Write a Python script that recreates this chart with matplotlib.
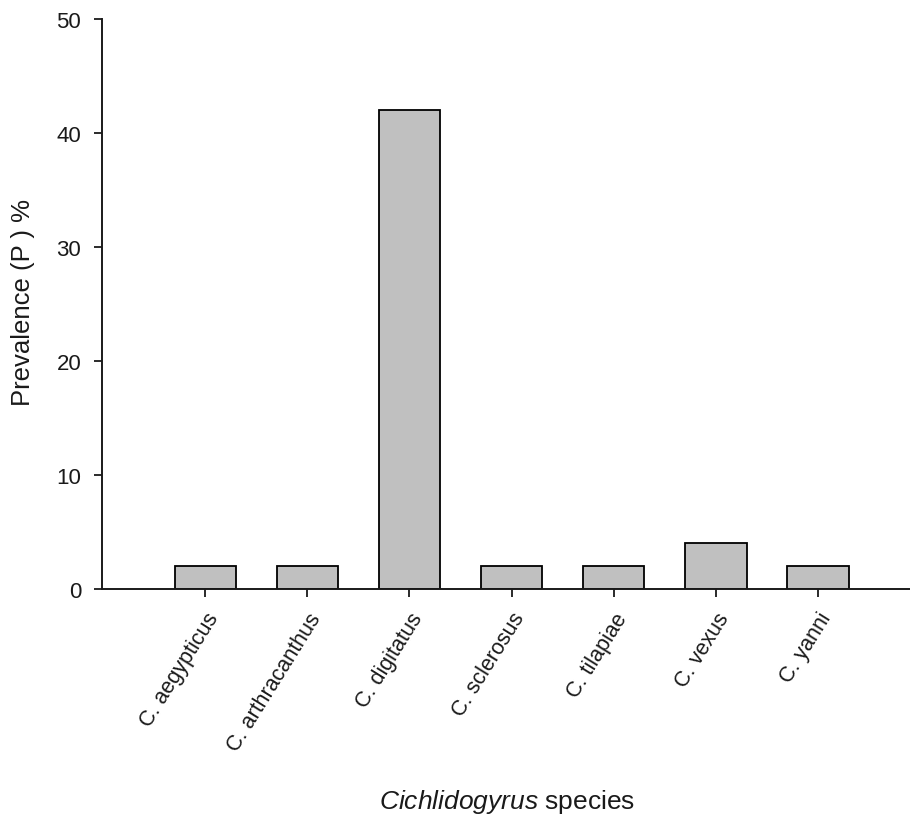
import numpy as np
import matplotlib.pyplot as plt

# ============================================================
# DATA
# ============================================================

species    = ["C. aegypticus", "C. arthracanthus", "C. digitatus", "C. sclerosus",
              "C. tilapiae", "C. vexus", "C. yanni"]
prevalence = [2, 2, 42, 2, 2, 4, 2]
y_ticks    = [0, 10, 20, 30, 40, 50]

# ============================================================
# STYLE
# ============================================================

plt.rcParams["font.family"] = ["Liberation Sans", "DejaVu Sans"]
plt.rcParams["mathtext.fontset"] = "custom"
plt.rcParams["mathtext.it"] = "Liberation Sans:italic"
plt.rcParams["mathtext.rm"] = "Liberation Sans"

TXT = "#1a1a1a"
W, H = 910, 820
fig = plt.figure(figsize=(W / 100, H / 100), dpi=100)
ax = fig.add_axes([102 / W, 1 - 590 / H, (910 - 102) / W, (590 - 20) / H])

x = np.arange(len(species))
ax.bar(x, prevalence, width=0.6, color="#c0c0c0", edgecolor="black",
       linewidth=1.3, zorder=2)

ax.set_xlim(-1.01, 6.9)
ax.set_ylim(0, 50)
ax.set_yticks(y_ticks)
ax.set_xticks(x)
ax.set_xticklabels(species, rotation=58, ha="right", va="top",
                   rotation_mode="anchor", fontsize=15.5, color=TXT)

for s in ["top", "right"]:
    ax.spines[s].set_visible(False)
for s in ["left", "bottom"]:
    ax.spines[s].set_linewidth(1.4)
    ax.spines[s].set_color(TXT)

ax.tick_params(axis="both", direction="out", length=6, width=1.3, color=TXT)
ax.tick_params(axis="y", labelsize=16, pad=9, labelcolor=TXT)
ax.tick_params(axis="x", pad=8)

fig.text(23 / W, 1 - 303 / H, "Prevalence (P ) %", rotation=90, fontsize=18.5,
         color=TXT, ha="center", va="center")
fig.text(507 / W, 1 - 802 / H, r"$\mathit{Cichlidogyrus}$ species", fontsize=19,
         color=TXT, ha="center", va="center")

fig.savefig("out.png", dpi=100)
